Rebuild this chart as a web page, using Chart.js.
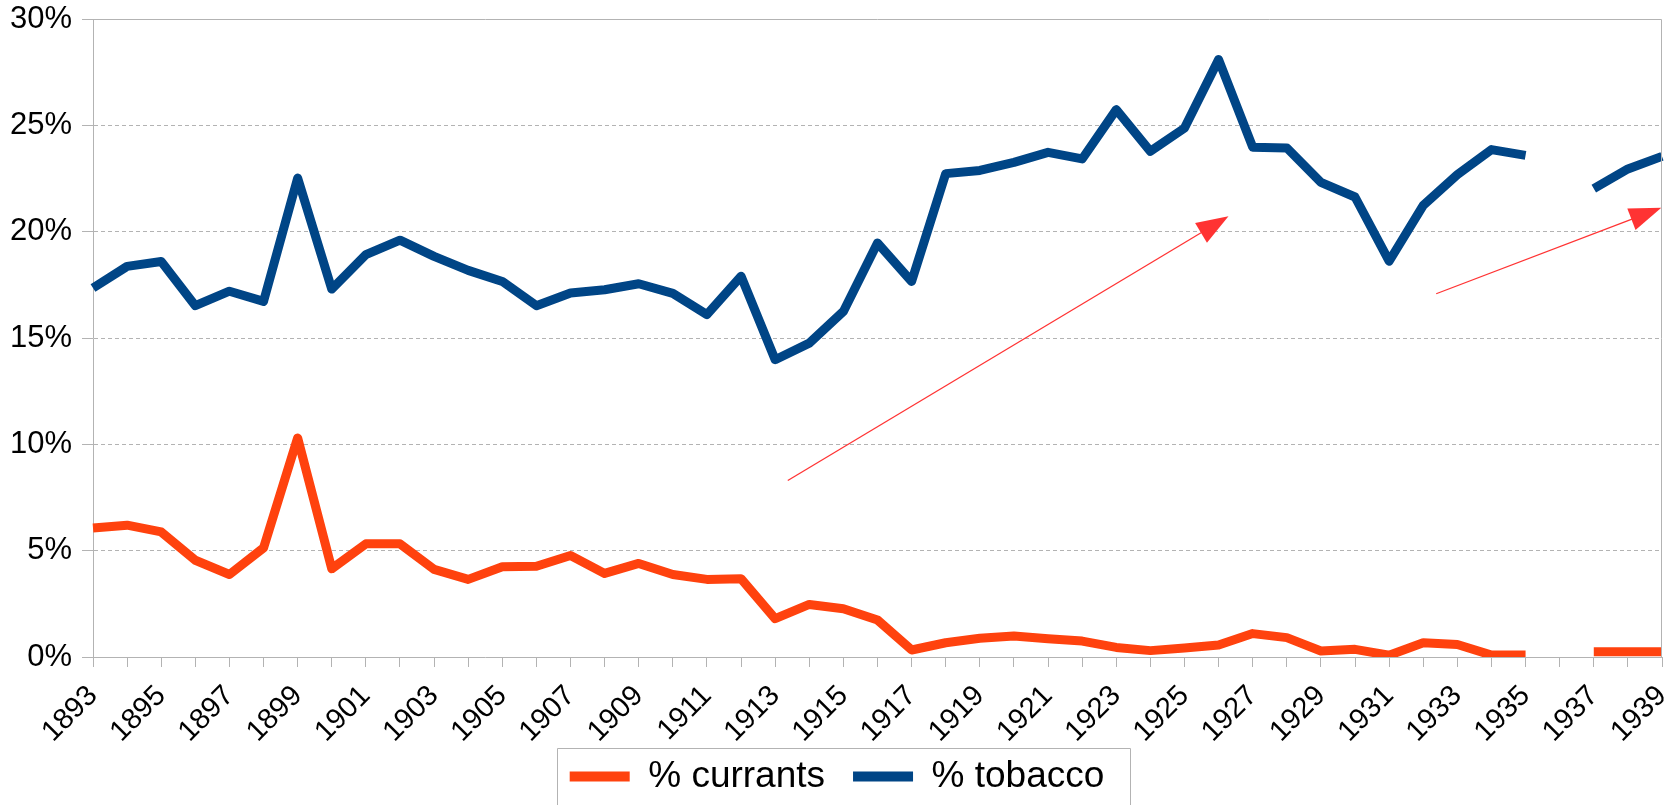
<!DOCTYPE html>
<html>
<head>
<meta charset="utf-8">
<script src="https://cdn.jsdelivr.net/npm/chart.js@4/dist/chart.umd.min.js"></script>
<style>
  html, body { margin: 0; padding: 0; background: #ffffff; }
  #wrap { width: 1678px; height: 805px; position: relative; }
</style>
</head>
<body>
<div id="wrap"><canvas id="chart"></canvas></div>
<script>
// ---- data (percent) ----
const years = [1893,1894,1895,1896,1897,1898,1899,1900,1901,1902,1903,1904,1905,1906,1907,1908,1909,1910,
  1911,1912,1913,1914,1915,1916,1917,1918,1919,1920,1921,1922,1923,1924,1925,1926,1927,1928,1929,1930,
  1931,1932,1933,1934,1935,1936,1937,1938,1939];

const currants = [6.07,6.2,5.88,4.55,3.88,5.13,10.3,4.15,5.32,5.32,4.12,3.65,4.24,4.27,4.77,3.93,4.4,3.88,
  3.65,3.68,1.8,2.47,2.27,1.74,0.33,0.67,0.88,0.99,0.86,0.75,0.45,0.3,0.42,0.56,1.1,0.91,0.28,0.36,
  0.08,0.67,0.59,0.09,0.09,null,0.25,0.25,0.25];

const tobacco = [17.35,18.37,18.6,16.52,17.2,16.72,22.52,17.3,18.92,19.6,18.84,18.18,17.66,16.52,17.12,17.27,17.55,17.1,
  16.1,17.9,13.98,14.76,16.25,19.47,17.66,22.73,22.88,23.26,23.73,23.42,25.74,23.78,24.87,28.09,23.97,23.94,22.32,21.63,
  18.61,21.24,22.68,23.86,23.59,null,22.02,22.95,23.54];

const xLabelYears = [1893,1895,1897,1899,1901,1903,1905,1907,1909,1911,1913,1915,1917,1919,1921,1923,1925,1927,1929,1931,1933,1935,1937,1939];
const yTicks = [0,5,10,15,20,25,30];

const seriesNames = ['% currants', '% tobacco'];

// annotation arrows in data space: [year, percent]
const arrowTails = [[1913.37, 8.30], [1932.38, 17.08]];
const arrowHeads = [[1926.29, 20.72], [1938.98, 21.12]];

// ---- styles ----
const FONT = 'Liberation Sans, Arial, sans-serif';
const AXIS_GRAY = '#b3b3b3';
const COLORS = ['#ff420e', '#004586'];

const plotFrame = {
  id: 'plotFrame',
  afterDraw(chart) {
    const a = chart.chartArea, ctx = chart.ctx;
    ctx.save();
    ctx.strokeStyle = AXIS_GRAY;
    ctx.lineWidth = 1;
    ctx.beginPath();
    ctx.moveTo(Math.round(a.left) + 0.5, Math.round(a.top) + 0.5);
    ctx.lineTo(Math.round(a.right) - 0.5, Math.round(a.top) + 0.5);
    ctx.lineTo(Math.round(a.right) - 0.5, Math.round(a.bottom) + 0.5);
    ctx.stroke();
    // legend frame
    const lg = chart.legend;
    if (lg && lg.legendHitBoxes && lg.legendHitBoxes.length) {
      const hb = lg.legendHitBoxes;
      const first = hb[0], last = hb[hb.length - 1];
      const cy = first.top + first.height / 2;
      const l = Math.round(first.left - 12.5) + 0.5;
      const r = Math.round(last.left + last.width + 26) + 0.5;
      const t = Math.round(cy - 28.4) + 0.5;
      const b = chart.height + 5;
      ctx.strokeStyle = '#b3b3b3';
      ctx.beginPath();
      ctx.moveTo(l, b); ctx.lineTo(l, t); ctx.lineTo(r, t); ctx.lineTo(r, b);
      ctx.stroke();
    }
    ctx.restore();
  }
};

const arrows = {
  id: 'arrows',
  afterDatasetsDraw(chart) {
    const xs = chart.scales.x, ys = chart.scales.y, ctx = chart.ctx;
    ctx.save();
    ctx.strokeStyle = '#ff3333';
    ctx.fillStyle = '#ff3333';
    ctx.lineWidth = 1.3;
    for (let i = 0; i < arrowTails.length; i++) {
      const x1 = xs.getPixelForValue(arrowTails[i][0] - years[0]);
      const y1 = ys.getPixelForValue(arrowTails[i][1]);
      const x2 = xs.getPixelForValue(arrowHeads[i][0] - years[0]);
      const y2 = ys.getPixelForValue(arrowHeads[i][1]);
      const ang = Math.atan2(y2 - y1, x2 - x1);
      const L = 32, W = 11.5;
      const bx = x2 - L * Math.cos(ang), by = y2 - L * Math.sin(ang);
      ctx.beginPath();
      ctx.moveTo(x1, y1);
      ctx.lineTo(bx + 2 * Math.cos(ang), by + 2 * Math.sin(ang));
      ctx.stroke();
      ctx.beginPath();
      ctx.moveTo(x2, y2);
      ctx.lineTo(bx + W * Math.sin(ang), by - W * Math.cos(ang));
      ctx.lineTo(bx - W * Math.sin(ang), by + W * Math.cos(ang));
      ctx.closePath();
      ctx.fill();
    }
    ctx.restore();
  }
};

new Chart(document.getElementById('chart'), {
  type: 'line',
  data: {
    labels: years.map(String),
    datasets: [
      { label: seriesNames[0], data: currants, borderColor: COLORS[0], backgroundColor: COLORS[0],
        borderWidth: 9, pointRadius: 0, tension: 0, borderJoinStyle: 'round', borderCapStyle: 'butt', spanGaps: false },
      { label: seriesNames[1], data: tobacco, borderColor: COLORS[1], backgroundColor: COLORS[1],
        borderWidth: 9, pointRadius: 0, tension: 0, borderJoinStyle: 'round', borderCapStyle: 'butt', spanGaps: false }
    ]
  },
  options: {
    responsive: true,
    maintainAspectRatio: false,
    animation: false,
    events: [],
    layout: { padding: { top: 19, right: 16, left: 12, bottom: 0 } },
    scales: {
      x: {
        type: 'category',
        offset: false,
        grid: { display: true, drawOnChartArea: false, drawTicks: true, tickLength: 10, color: AXIS_GRAY, tickColor: AXIS_GRAY },
        border: { display: true, color: AXIS_GRAY },
        ticks: {
          autoSkip: false, maxRotation: 45, minRotation: 45, padding: 12,
          color: '#000000', font: { family: FONT, size: 29 },
          callback: function (v, i) { return xLabelYears.includes(years[i]) ? String(years[i]) : ''; }
        },
        afterFit(scale) {
          scale.height = 73; scale.paddingLeft = 0; scale.paddingRight = 0;
          scale._computeLabelArea = () => undefined;
        }
      },
      y: {
        min: 0, max: 30,
        grid: { display: true, drawOnChartArea: true, drawTicks: true, tickLength: 11, color: AXIS_GRAY, tickColor: AXIS_GRAY },
        border: { display: true, color: AXIS_GRAY, dash: [4, 3] },
        afterBuildTicks(scale) { scale.ticks = yTicks.map(v => ({ value: v })); },
        ticks: {
          padding: 10, color: '#000000', font: { family: FONT, size: 31 },
          callback: v => v + '%'
        },
        afterFit(scale) {
          scale.width = 81; scale.paddingTop = 0; scale.paddingBottom = 0;
          scale._computeLabelArea = () => undefined;
        }
      }
    },
    plugins: {
      tooltip: { enabled: false },
      legend: {
        display: true,
        position: 'bottom',
        labels: {
          boxWidth: 60, boxHeight: 10, padding: 28, color: '#000000',
          font: { family: FONT, size: 37 },
          generateLabels: (chart) => chart.data.datasets.map((ds, i) => ({
            text: ds.label, fillStyle: ds.borderColor, strokeStyle: ds.borderColor,
            lineWidth: 0, hidden: false, datasetIndex: i, fontColor: '#000000'
          }))
        }
      }
    }
  },
  plugins: [plotFrame, arrows]
});
</script>
</body>
</html>
